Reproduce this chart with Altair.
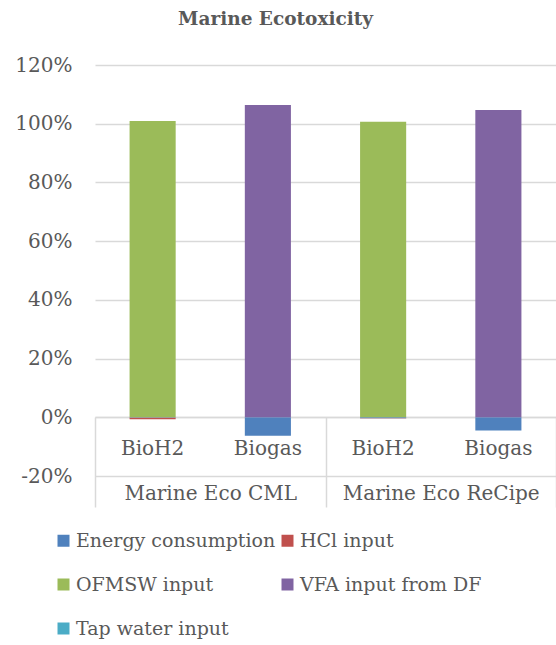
import altair as alt
import pandas as pd

# ---- data ----
groups = ["Marine Eco CML", "Marine Eco ReCipe"]
scenarios = ["BioH2", "Biogas"]
series = ["Energy consumption", "HCl input", "OFMSW input", "VFA input from DF", "Tap water input"]
colors = ["#4F81BD", "#C0504D", "#9BBB59", "#8064A2", "#4BACC6"]

# values (fraction) per series, ordered as: CML BioH2, CML Biogas, ReCipe BioH2, ReCipe Biogas
energy = [-0.002, -0.063, -0.003, -0.045]
hcl = [-0.005, 0.0, -0.001, 0.0]
ofmsw = [1.009, 0.0, 1.007, 0.0]
vfa = [0.0, 1.064, 0.0, 1.047]
tap = [0.0, 0.0, 0.0, 0.0]

y_ticks = [-0.2, 0.0, 0.2, 0.4, 0.6, 0.8, 1.0, 1.2]

keys = [f"{g}|{s}" for g in groups for s in scenarios]
vals = [energy, hcl, ofmsw, vfa, tap]
rows = []
for si, (name, v) in enumerate(zip(series, vals)):
    for k, val in zip(keys, v):
        rows.append({"key": k, "series": name, "order": si, "value": val})
df = pd.DataFrame(rows)
gdf = pd.DataFrame({"group": groups})

FONT = "DejaVu Serif"
GREY = "#595959"
GRID = "#D9D9D9"
W, H = 461, 411
zero_offset = -round(H * 0.2 / 1.4)

bars = alt.Chart(df).mark_bar(width={"band": 0.4}).encode(
    x=alt.X("key:N", sort=keys,
            scale=alt.Scale(paddingInner=0, paddingOuter=0),
            axis=alt.Axis(orient="bottom", title=None, labelAngle=0, ticks=False,
                          domain=True, domainColor=GRID, domainWidth=1.5,
                          labelExpr="split(datum.label, '|')[1]",
                          labelPadding=21, labelFontSize=20, labelFont=FONT,
                          labelColor=GREY, offset=zero_offset, grid=False,
                          labelLimit=300)),
    y=alt.Y("value:Q", stack="zero",
            scale=alt.Scale(domain=[-0.2, 1.2], nice=False),
            axis=alt.Axis(title=None, values=y_ticks, ticks=False, domain=False,
                          labelExpr="(datum.value < 0 ? '-' : '') + format(abs(datum.value), '.0%')",
                          labelPadding=23, labelFontSize=20, labelFont=FONT,
                          labelColor=GREY, gridColor=GRID, gridWidth=1.5)),
    color=alt.Color("series:N", sort=series,
                    scale=alt.Scale(domain=series, range=colors),
                    legend=alt.Legend(title=None, orient="none", legendX=-41, legendY=466,
                                      direction="horizontal",
                                      columns=2, columnPadding=2, rowPadding=24,
                                      symbolType="square", symbolSize=144,
                                      symbolStrokeWidth=0, labelOffset=3,
                                      labelFont=FONT, labelFontSize=19,
                                      labelColor=GREY, labelLimit=400)),
    order=alt.Order("order:Q"),
)

grp = alt.Chart(gdf).mark_point(opacity=0).encode(
    x=alt.X("group:N", sort=groups,
            scale=alt.Scale(paddingInner=0, paddingOuter=0),
            axis=alt.Axis(orient="bottom", title=None, labelAngle=0, domain=False,
                          ticks=True, tickBand="extent", tickSize=90, tickColor=GRID,
                          tickWidth=1.5, labelPadding=-24, labelFontSize=20,
                          labelFont=FONT, labelColor=GREY, offset=zero_offset,
                          grid=False, labelLimit=300)),
    y=alt.value(0),
)

chart = alt.layer(bars, grp).resolve_scale(x="independent").properties(
    width=W, height=H,
    autosize="none",
    padding={"left": 95, "top": 65, "right": 0, "bottom": 169},
    title=alt.TitleParams("Marine Ecotoxicity", font=FONT, fontSize=18.5,
                          fontWeight="bold", color=GREY, anchor="middle",
                          dx=-50, offset=27),
).configure_view(stroke=None)

chart.save("out.html", embed_options={"renderer": "svg", "actions": False})
